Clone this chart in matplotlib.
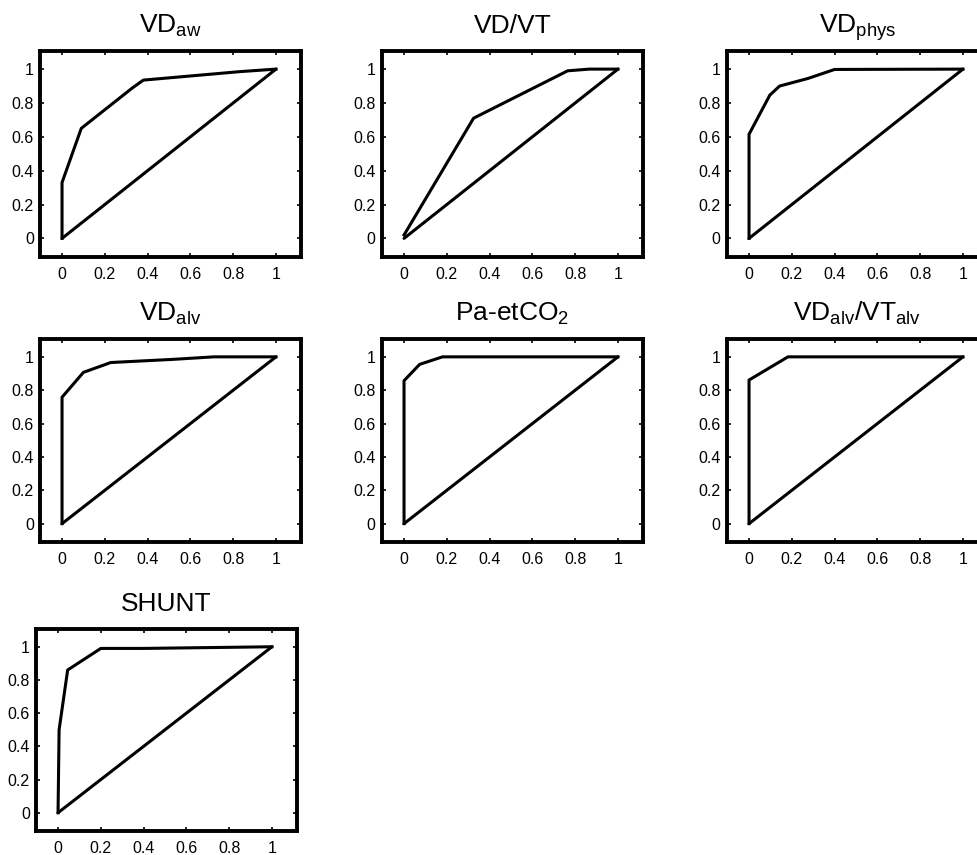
import matplotlib
matplotlib.use("Agg")
import matplotlib.pyplot as plt

plt.rcParams['font.family'] = ['Liberation Sans', 'DejaVu Sans']
plt.rcParams['mathtext.default'] = 'regular'

titles = [r'VD$_{aw}$', 'VD/VT', r'VD$_{phys}$', r'VD$_{alv}$',
          r'Pa-etCO$_2$', r'VD$_{alv}$/VT$_{alv}$', 'SHUNT']

fpr_aw = [0, 0, 0.09, 0.33, 0.38, 0.83, 1]
tpr_aw = [0, 0.33, 0.65, 0.89, 0.935, 0.985, 1]

fpr_vdvt = [0, 0.325, 0.765, 0.866, 1]
tpr_vdvt = [0.02, 0.71, 0.99, 1.0, 1]

fpr_phys = [0, 0, 0.097, 0.143, 0.276, 0.40, 1]
tpr_phys = [0, 0.615, 0.846, 0.90, 0.945, 0.998, 1]

fpr_alv = [0, 0, 0.10, 0.228, 0.52, 0.71, 1]
tpr_alv = [0, 0.758, 0.907, 0.966, 0.985, 1.0, 1]

fpr_paet = [0, 0, 0.073, 0.18, 1]
tpr_paet = [0, 0.857, 0.955, 1.0, 1]

fpr_ratio = [0, 0, 0.182, 1]
tpr_ratio = [0, 0.861, 1.0, 1]

fpr_shunt = [0, 0.005, 0.045, 0.2, 0.4, 1]
tpr_shunt = [0, 0.5, 0.86, 0.99, 0.99, 1]

curves = [(fpr_aw, tpr_aw), (fpr_vdvt, tpr_vdvt), (fpr_phys, tpr_phys),
          (fpr_alv, tpr_alv), (fpr_paet, tpr_paet), (fpr_ratio, tpr_ratio),
          (fpr_shunt, tpr_shunt)]

diag = [0, 1]
ticks = [0, 0.2, 0.4, 0.6, 0.8, 1]
tick_labels = ['0', '0.2', '0.4', '0.6', '0.8', '1']

W, H = 978, 855
fig = plt.figure(figsize=(W / 100, H / 100), dpi=100)

cols = [40, 382, 727]
rows = [(51, 257), (339, 542), (629, 831)]
aw = 261

for i, (title, (fx, ty)) in enumerate(zip(titles, curves)):
    r, c = divmod(i, 3)
    top, bot = rows[r]
    left = cols[c] if r < 2 else 36
    ax = fig.add_axes([left / W, (H - bot) / H, aw / W, (bot - top) / H])
    ax.plot(fx, ty, color='black', lw=2.2, solid_joinstyle='round')
    ax.plot(diag, diag, color='black', lw=2.2, solid_capstyle='round')
    ax.set_xlim(-0.103, 1.117)
    ax.set_ylim(-0.11, 1.107)
    ax.set_xticks(ticks)
    ax.set_xticklabels(tick_labels)
    ax.set_yticks(ticks)
    ax.set_yticklabels(tick_labels)
    ax.tick_params(direction='in', length=3, width=1.2, top=True, right=True,
                   labelsize=11.5, colors='black')
    ax.tick_params(axis='x', pad=7)
    ax.tick_params(axis='y', pad=4.5)
    for s in ax.spines.values():
        s.set_linewidth(2.8)
    ax.annotate(title, xy=(0.5, 1), xycoords='axes fraction',
                xytext=(0, 13), textcoords='offset points',
                ha='center', va='baseline', fontsize=19)

fig.savefig('out.png', dpi=100)
